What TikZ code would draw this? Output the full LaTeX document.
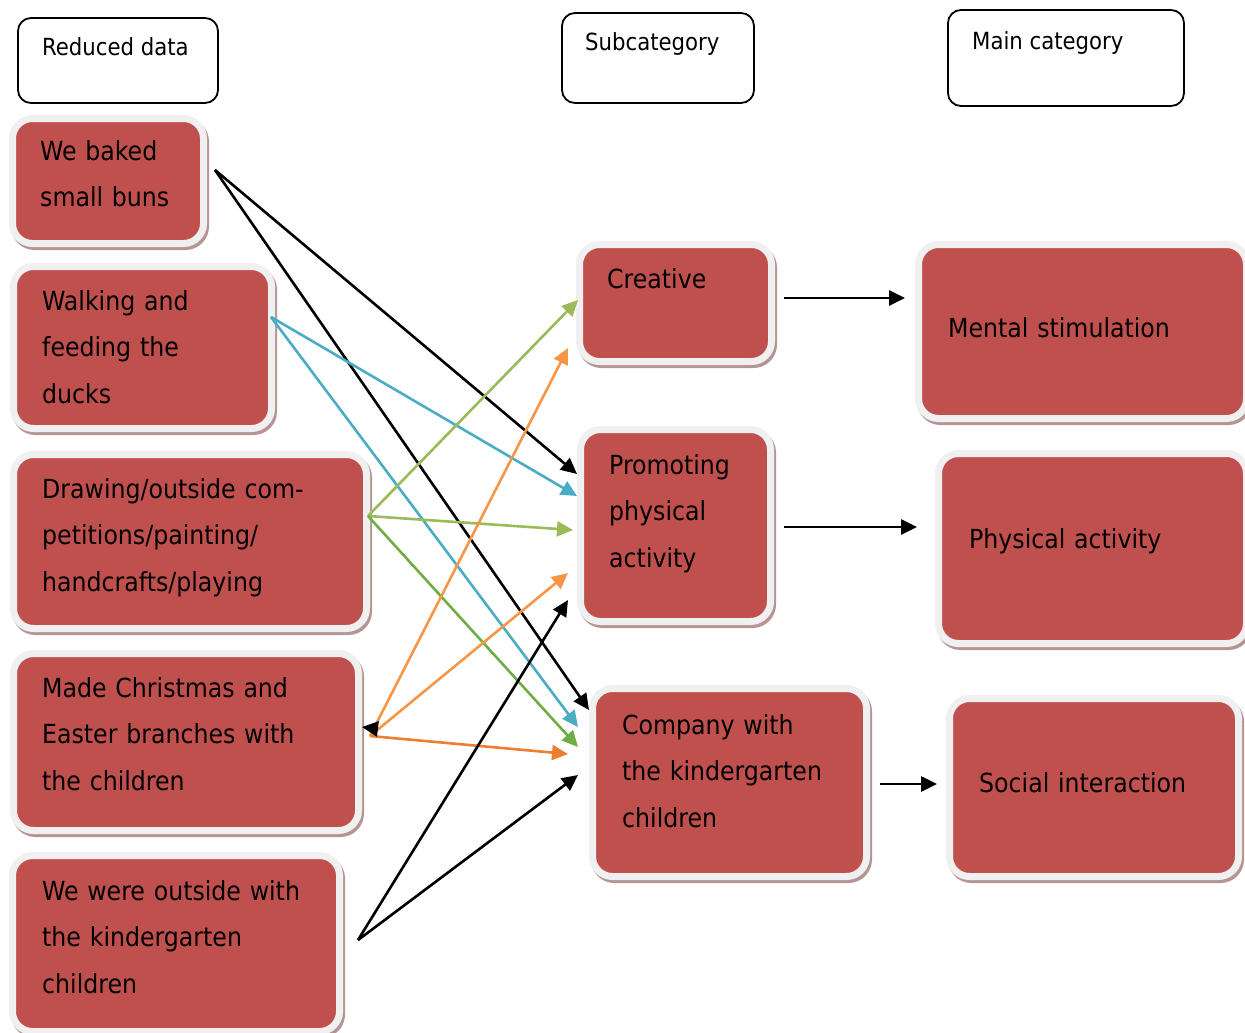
\documentclass[tikz,border=0pt]{standalone}
\usepackage{fontspec}
\setmainfont{DejaVu Sans Condensed}
\usetikzlibrary{arrows.meta,shadows}
\definecolor{boxred}{HTML}{C0504D}
\definecolor{rimgray}{HTML}{F0F0F0}
\definecolor{shadowc}{HTML}{B79494}
\definecolor{lnblue}{HTML}{4BACC6}
\definecolor{lngreen}{HTML}{9BBB59}
\definecolor{lngreenD}{HTML}{70AD47}
\definecolor{lnorange}{HTML}{F79646}
\definecolor{lnorangeD}{HTML}{ED7D31}
\begin{document}
\begin{tikzpicture}[x=1pt,y=-1pt,
  redbox/.style={draw=rimgray, line width=7pt, fill=boxred, rounded corners=20pt,
    inner sep=0pt,
    general shadow={shadow xshift=2pt, shadow yshift=-3pt, fill=shadowc,
      draw=shadowc, line width=7pt}},
  headbox/.style={draw=black, line width=1.8pt, fill=white, rounded corners=13pt, inner sep=0pt},
  txt/.style={anchor=base west, inner sep=0pt, align=left, text width=420pt,
    font=\fontsize{26.3}{46.8}\selectfont},
  headtxt/.style={anchor=base west, inner sep=0pt, font=\fontsize{23.6}{27}\selectfont},
  conn/.style={line width=2.6pt, -{Triangle[length=16pt,width=15pt]}},
]
\useasboundingbox (0,0) rectangle (1245,1033);

% column headers
\node[headbox, minimum width=200pt, minimum height=85pt] (h1) at (118,60.5) {};
\node[headbox, minimum width=192pt, minimum height=90pt] (h2) at (658,58) {};
\node[headbox, minimum width=236pt, minimum height=96pt] (h3) at (1066,58) {};
\node[headtxt] (h1t) at (42,56) {Reduced data};
\node[headtxt] (h2t) at (585,51) {Subcategory};
\node[headtxt] (h3t) at (972,49) {Main category};

% reduced data boxes
\node[redbox, minimum width=191pt, minimum height=125pt] (b1) at (108,181) {};
\node[redbox, minimum width=258pt, minimum height=162pt] (b2) at (142.5,347.5) {};
\node[redbox, minimum width=353pt, minimum height=174pt] (b3) at (190,541.5) {};
\node[redbox, minimum width=345pt, minimum height=177pt] (b4) at (186,742) {};
\node[redbox, minimum width=327pt, minimum height=176pt] (b5) at (176,943.5) {};

% subcategory boxes
\node[redbox, minimum width=192pt, minimum height=117pt] (s1) at (675.5,303) {};
\node[redbox, minimum width=190pt, minimum height=192pt] (s2) at (675.5,525.5) {};
\node[redbox, minimum width=274pt, minimum height=188pt] (s3) at (729.5,782.5) {};

% main category boxes
\node[redbox, minimum width=328pt, minimum height=174pt] (m1) at (1082.5,331.5) {};
\node[redbox, minimum width=308pt, minimum height=190pt] (m2) at (1092.5,548.5) {};
\node[redbox, minimum width=289pt, minimum height=178pt] (m3) at (1094,787.5) {};

% box texts
\node[txt] (b1t) at (40,160) {We baked\\small buns};
\node[txt] (b2t) at (42,310) {Walking and\\feeding the\\ducks};
\node[txt] (b3t) at (42,498) {Drawing/outside com-\\petitions/painting/\\handcrafts/playing};
\node[txt] (b4t) at (42,697) {Made Christmas and\\Easter branches with\\the children};
\node[txt] (b5t) at (42,900) {We were outside with\\the kindergarten\\children};
\node[txt] (s1t) at (607,288) {Creative};
\node[txt] (s2t) at (609,474) {Promoting\\physical\\activity};
\node[txt] (s3t) at (622,734) {Company with\\the kindergarten\\children};
\node[txt] (m1t) at (948,337) {Mental stimulation};
\node[txt] (m2t) at (969,548) {Physical activity};
\node[txt] (m3t) at (979,792) {Social interaction};

% fan-out points beside the reduced data boxes
\coordinate (b1o) at ([xshift=8pt,yshift=11pt]b1.east);
\coordinate (b2o) at ([xshift=-4pt,yshift=30.5pt]b2.east);
\coordinate (b3o) at ([xshift=-2pt,yshift=25.5pt]b3.east);
\coordinate (b4o) at ([xshift=8pt,yshift=6pt]b4.east);
\coordinate (b4k) at ([xshift=16pt,yshift=13pt]b4.east);
\coordinate (b5o) at ([xshift=15pt,yshift=3.5pt]b5.east);

% reduced data -> subcategory
\draw[conn, black] (b1o) -- ([yshift=51.5pt]s2.west);
\draw[conn, black] (b1o) -- ([yshift=72.5pt]s3.west);
\draw[conn, lnblue] (b2o) -- ([yshift=29.5pt]s2.west);
\draw[conn, lnblue] (b2o) -- ([xshift=-11pt,yshift=55.5pt]s3.west);
\draw[conn, lngreen] (b3o) -- ([xshift=2pt,yshift=3pt]s1.west);
\draw[conn, lngreen] (b3o) -- ([xshift=-4pt,yshift=-4.5pt]s2.west);
\draw[conn, lngreenD] (b3o) -- ([xshift=-11pt,yshift=35.5pt]s3.west);
\draw[conn, lnorange] (b4o) -- ([xshift=-8pt,yshift=-45pt]s1.west);
\draw[conn, lnorange] (b4o) -- ([xshift=-9pt,yshift=-47.5pt]s2.west);
\draw[conn, lnorangeD] (b4o) -- ([xshift=-21pt,yshift=28.5pt]s3.west);
\draw[conn, black] (b4k) -- ([yshift=15pt]b4.east);
\draw[conn, black] (b5o) -- ([xshift=-9pt,yshift=-74.5pt]s2.west);
\draw[conn, black] (b5o) -- ([xshift=-11pt,yshift=7.5pt]s3.west);

% subcategory -> main category
\draw[conn, black] ([xshift=9pt,yshift=5pt]s1.east) -- ([xshift=-10pt,yshift=33.5pt]m1.west);
\draw[conn, black] ([xshift=10pt,yshift=-1.5pt]s2.east) -- ([xshift=-18pt,yshift=21.5pt]m2.west);
\draw[conn, black] ([xshift=10pt,yshift=-1.5pt]s3.east) -- ([xshift=-9pt,yshift=3.5pt]m3.west);
\end{tikzpicture}
\end{document}
